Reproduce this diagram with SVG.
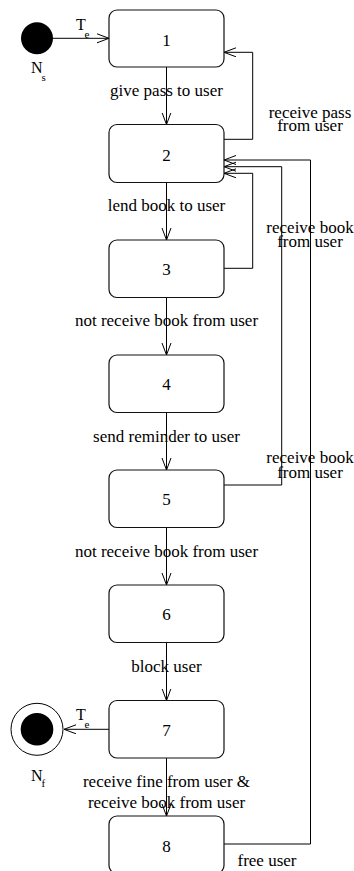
<svg xmlns="http://www.w3.org/2000/svg" width="354" height="871" viewBox="0 0 354 871">
<defs>
<marker id="arr" markerUnits="userSpaceOnUse" markerWidth="14" markerHeight="12" refX="12" refY="5" orient="auto">
<path d="M0,0.5 L12,5 L0,9.5" fill="none" stroke="#000" stroke-width="1"/>
</marker>
</defs>
<style>
.box{fill:#fff;stroke:#111;stroke-width:1.2}
.t{font-family:"Liberation Serif","Times New Roman",serif;font-size:17px;fill:#000}
.m{text-anchor:middle}
.sub{font-family:"Liberation Serif","Times New Roman",serif;font-size:11px;fill:#000}
.c{fill:none;stroke:#000;stroke-width:1;marker-end:url(#arr)}
</style>
<rect width="354" height="871" fill="#fff"/>
<g id="connectors">
<line class="c" x1="53" y1="38.3" x2="109" y2="38.3"/>
<line class="c" x1="166.5" y1="67" x2="166.5" y2="124.5"/>
<line class="c" x1="166.5" y1="182.5" x2="166.5" y2="240"/>
<line class="c" x1="166.5" y1="297.5" x2="166.5" y2="355"/>
<line class="c" x1="166.5" y1="412.5" x2="166.5" y2="470"/>
<line class="c" x1="166.5" y1="527.5" x2="166.5" y2="585"/>
<line class="c" x1="166.5" y1="642.5" x2="166.5" y2="700.5"/>
<line class="c" x1="166.5" y1="758" x2="166.5" y2="816"/>
<line class="c" x1="109" y1="729.3" x2="64" y2="729.3"/>
<polyline class="c" points="224,139.3 252.7,139.3 252.7,52.3 224,52.3"/>
<polyline class="c" points="224,268.3 252.7,268.3 252.7,173.3 224,173.3"/>
<polyline class="c" points="224,485 281.7,485 281.7,166.7 224,166.7"/>
<polyline class="c" points="224,844 310.5,844 310.5,160 224,160"/>
</g>
<g id="start">
<circle cx="37" cy="38.3" r="16" fill="#000"/>
<text class="t" x="31" y="72.5" style="font-size:16px">N</text>
<text class="sub" x="41.5" y="81">s</text>
<text class="t" x="76" y="30" style="font-size:16px">T</text>
<text class="sub" x="84.5" y="37.5">e</text>
</g>
<g id="final">
<circle cx="37" cy="729.3" r="26" fill="#fff" stroke="#000" stroke-width="1"/>
<circle cx="37" cy="729.3" r="16.3" fill="#000"/>
<text class="t" x="31" y="781" style="font-size:16px">N</text>
<text class="sub" x="41.5" y="787">f</text>
<text class="t" x="76" y="720" style="font-size:16px">T</text>
<text class="sub" x="84.5" y="727.5">e</text>
</g>
<g id="n1"><rect class="box" x="109" y="10" width="115" height="57" rx="8"/><text class="t m" x="166.5" y="46">1</text></g>
<g id="n2"><rect class="box" x="109" y="124.5" width="115" height="58" rx="8"/><text class="t m" x="166.5" y="160.5">2</text></g>
<g id="n3"><rect class="box" x="109" y="240" width="115" height="57.5" rx="8"/><text class="t m" x="166.5" y="275">3</text></g>
<g id="n4"><rect class="box" x="109" y="355" width="115" height="57.5" rx="8"/><text class="t m" x="166.5" y="390">4</text></g>
<g id="n5"><rect class="box" x="109" y="470" width="115" height="57.5" rx="8"/><text class="t m" x="166.5" y="505">5</text></g>
<g id="n6"><rect class="box" x="109" y="585" width="115" height="57.5" rx="8"/><text class="t m" x="166.5" y="620">6</text></g>
<g id="n7"><rect class="box" x="109" y="700.5" width="115" height="57.5" rx="8"/><text class="t m" x="166.5" y="735.5">7</text></g>
<g id="n8"><rect class="box" x="109" y="816" width="115" height="57.5" rx="8"/><text class="t m" x="166.5" y="852">8</text></g>
<g id="labels">
<text class="t m" x="166.5" y="96">give pass to user</text>
<text class="t m" x="166.5" y="211">lend book to user</text>
<text class="t m" x="166.5" y="326">not receive book from user</text>
<text class="t m" x="166.5" y="441.5">send reminder to user</text>
<text class="t m" x="166.5" y="556.5">not receive book from user</text>
<text class="t m" x="166.5" y="671.5">block user</text>
<text class="t m" x="166.5" y="786.5">receive fine from user &amp;<tspan x="166.5" dy="21.8">receive book from user</tspan></text>
<text class="t m" x="310" y="118.3">receive pass<tspan x="310" dy="12.7">from user</tspan></text>
<text class="t m" x="310" y="233">receive book<tspan x="310" dy="13.5">from user</tspan></text>
<text class="t m" x="310" y="463">receive book<tspan x="310" dy="14.5">from user</tspan></text>
<text class="t" x="237.5" y="865.5">free user</text>
</g>
</svg>
